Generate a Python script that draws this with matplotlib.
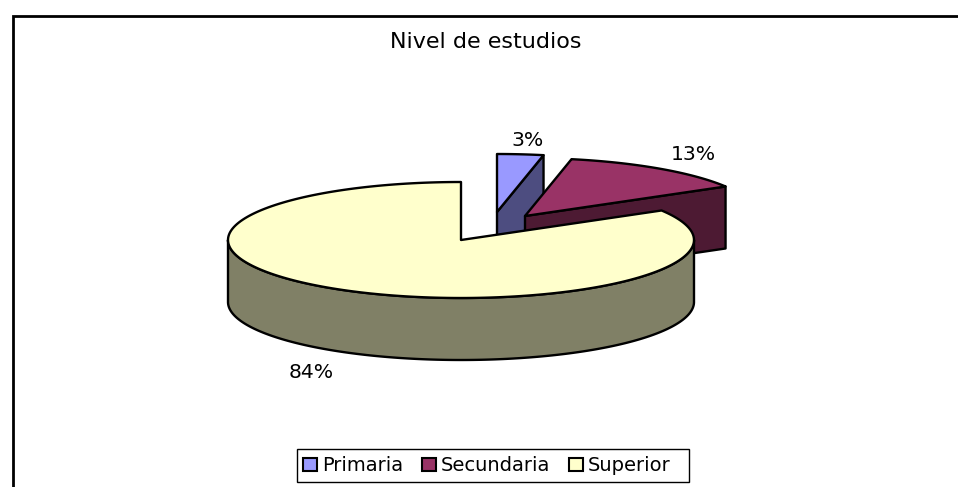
import numpy as np
from matplotlib import pyplot as plt
from matplotlib.patches import Patch, Polygon, Rectangle

plt.rcParams['font.family'] = ['DejaVu Sans']
plt.rcParams['font.stretch'] = 'normal'

title = 'Nivel de estudios'
categories = ['Primaria', 'Secundaria', 'Superior']
values = [3.2, 13.3, 83.5]
top_colors = ['#9999FF', '#993366', '#FFFFCC']
side_colors = ['#4D4D80', '#4D1A33', '#808066']

CX, CY = 461, 240
RX, RY = 233, 58
DEPTH = 62
LW = 1.7

# where each slice apex got pulled out to (px offset)
explode = [(36, -28), (64, -24), (0, 0)]
label_pos = [(528, 140.5), (693, 154.5), (311, 372.5)]


def rim(t, c):
    # t in degrees, clockwise from 12 o'clock
    t = np.radians(t)
    return np.column_stack([c[0] + RX * np.sin(t), c[1] - RY * np.cos(t)])


def face(ax, pts, color, z):
    ax.add_patch(Polygon(pts, closed=True, fc=color, ec='black', lw=LW, joinstyle='round', zorder=z))


fig = plt.figure(figsize=(9.58, 4.87), dpi=100)
ax = fig.add_axes([0, 0, 1, 1])
ax.set_xlim(0, 958)
ax.set_ylim(487, 0)
ax.axis('off')

# chart frame, runs off the image on the right and bottom
ax.plot([13, 13, 958], [487, 15.5, 15.5], color='black', lw=2, solid_joinstyle='miter', zorder=1)

edges = np.cumsum([0] + values) * 3.6
for i, v in enumerate(values):
    c = (CX + explode[i][0], CY + explode[i][1])
    t0, t1 = edges[i], edges[i + 1]
    ts = np.linspace(t0, t1, 200)
    arc = rim(ts, c)
    z = 2 + i * 2
    down = np.array([0, DEPTH])

    # end cut face, the only one looking at the viewer on the exploded slices
    if i < 2:
        p = arc[-1]
        face(ax, [c, p, p + down, np.array(c) + down], side_colors[i], z)
    else:
        tw = np.linspace(90, 270, 200)
        wall = rim(tw, c)
        face(ax, np.vstack([wall, (wall + down)[::-1]]), side_colors[i], z)

    face(ax, np.vstack([[c], arc]), top_colors[i], z + 1)

    ax.text(label_pos[i][0], label_pos[i][1], f'{v:.0f}%', ha='center', va='center',
            fontsize=14.7, zorder=10)

ax.text(485.5, 42, title, ha='center', va='center', fontsize=16, zorder=10)

# legend box has more room on the right than on the left, so it is drawn apart
ax.add_patch(Rectangle((297, 449), 392, 33, fc='white', ec='black', lw=1, zorder=9))
handles = [Patch(fc=c, ec='black', lw=1.5) for c in top_colors]
leg = ax.legend(handles, categories, ncol=3, loc='center left', bbox_to_anchor=(297, 465.5),
                bbox_transform=ax.transData, frameon=False,
                fontsize=14, handlelength=0.72, handleheight=0.68, handletextpad=0.27,
                columnspacing=0.95, borderpad=0.3, borderaxespad=0)
leg.set_zorder(10)

fig.savefig('out.png', dpi=100)
